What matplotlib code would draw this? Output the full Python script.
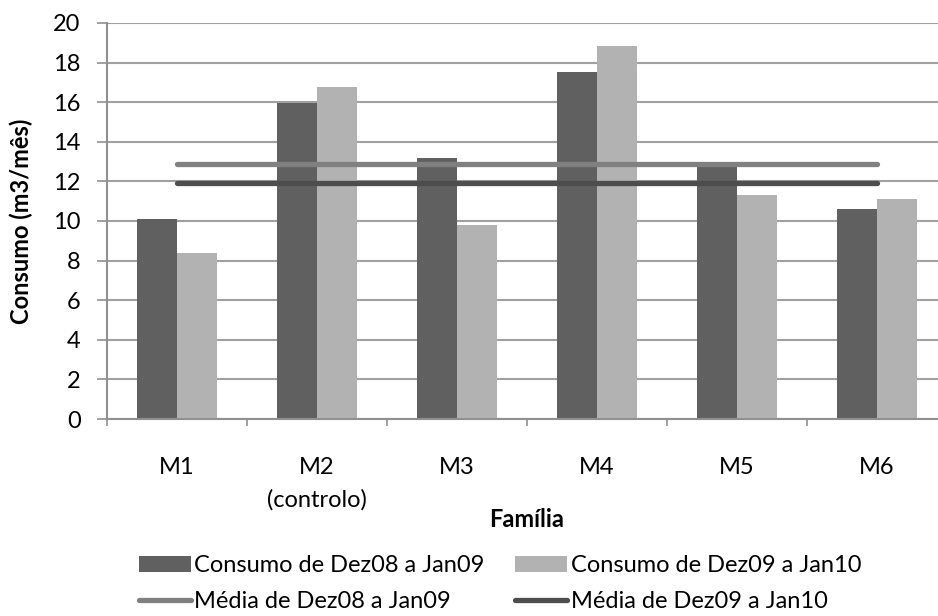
import numpy as np
import matplotlib
matplotlib.use('Agg')
import matplotlib.pyplot as plt

plt.rcParams['font.family'] = ['Lato', 'DejaVu Sans']

# Dados
familias = ['M1', 'M2\n(controlo)', 'M3', 'M4', 'M5', 'M6']
consumo_0809 = [10.1, 15.95, 13.2, 17.55, 12.8, 10.6]
consumo_0910 = [8.4, 16.75, 9.8, 18.85, 11.3, 11.1]
media_0809 = 12.9
media_0910 = 11.9

x = np.arange(len(familias))
w = 0.2857
fs = 17

fig = plt.figure(figsize=(9.38, 6.16), dpi=100)
ax = fig.add_axes([107/938, 197/616, 840/938, 396/616])

b1 = ax.bar(x - w/2, consumo_0809, width=w, color='#606060', zorder=2,
            label='Consumo de Dez08 a Jan09')
b2 = ax.bar(x + w/2, consumo_0910, width=w, color='#b2b2b2', zorder=2,
            label='Consumo de Dez09 a Jan10')
l1, = ax.plot(x, [media_0809] * len(x), color='#808080', lw=3.8, solid_capstyle='round',
              zorder=3, label='Média de Dez08 a Jan09')
l2, = ax.plot(x, [media_0910] * len(x), color='#4d4d4d', lw=3.8, solid_capstyle='round',
              zorder=3, label='Média de Dez09 a Jan10')

ax.set_xlim(-0.5, 5.5)
ax.set_ylim(0, 20)
ax.set_yticks(range(0, 21, 2))
ax.set_xticks(np.arange(-0.5, 6, 1), minor=False)
ax.set_xticklabels([])
ax.set_xticks(x, minor=True)
ax.set_xticklabels(familias, minor=True, fontsize=fs, linespacing=1.65)
ax.tick_params(axis='x', which='minor', length=0, pad=27)
ax.tick_params(axis='x', which='major', length=5, width=1.2, color='#909090')
ax.tick_params(axis='y', length=7, width=1.2, color='#909090', labelsize=fs, pad=12)

ax.grid(axis='y', color='#a0a0a0', linewidth=1.5, zorder=0)
for s in ['top', 'right']:
    ax.spines[s].set_visible(False)
for s in ['left', 'bottom']:
    ax.spines[s].set_color('#909090')
    ax.spines[s].set_linewidth(1.5)

ax.set_ylabel('Consumo (m3/mês)', fontsize=fs, fontweight='bold')
ax.yaxis.set_label_coords(-0.088, 0.5)
ax.set_xlabel('Família', fontsize=fs, fontweight='bold', labelpad=-2)

fig.legend([b1, l1, b2, l2],
           ['Consumo de Dez08 a Jan09', 'Média de Dez08 a Jan09',
            'Consumo de Dez09 a Jan10', 'Média de Dez09 a Jan10'],
           loc='center', bbox_to_anchor=(0.533, 0.053), ncol=2, frameon=False,
           fontsize=fs, handlelength=2.2, handleheight=0.65, handletextpad=0.15,
           columnspacing=1.3, labelspacing=0.62, borderpad=0)

fig.savefig('out.png', dpi=100)
